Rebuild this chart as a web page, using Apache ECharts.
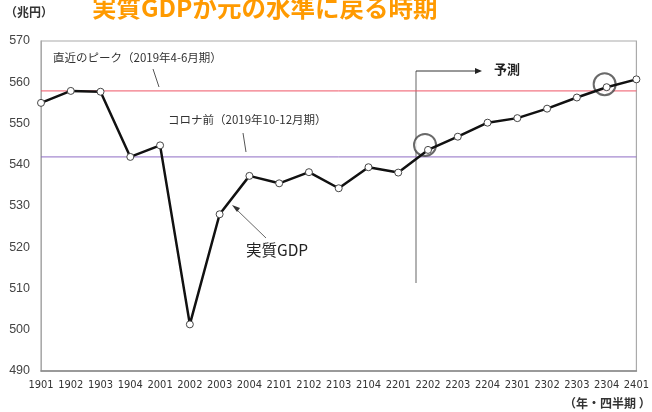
<!DOCTYPE html>
<html><head><meta charset="utf-8">
<script src="https://cdn.jsdelivr.net/npm/echarts@6/dist/echarts.min.js"></script>
<style>html,body{margin:0;padding:0;background:#fff}#c{width:652px;height:412px}</style>
</head><body><div id="c"></div>
<script>
const categories = ['1901','1902','1903','1904','2001','2002','2003','2004','2101','2102','2103','2104','2201','2202','2203','2204','2301','2302','2303','2304','2401'];
const realGDP = [555.0,557.9,557.7,541.9,544.7,501.3,528.0,537.3,535.5,538.2,534.3,539.4,538.1,543.6,546.8,550.2,551.3,553.6,556.3,558.8,560.7];
const peakLevel = 557.9;
const preCovidLevel = 541.9;
const yTicks = [490,500,510,520,530,540,550,560,570];
const highlightIdx = [13,19];

const chart = echarts.init(document.getElementById('c'));
const F = '"Noto Sans CJK JP", "Noto Sans", sans-serif';
const gray = '#555';
const last = categories.length - 1;
chart.setOption({
  animation:false,
  textStyle:{fontFamily:F},
  title:{text:'実質GDPが元の水準に戻る時期',left:87,top:-10,
    textStyle:{fontSize:24.5,fontWeight:'bold',color:'#FF9A00',fontFamily:F}},
  grid:{left:41,right:11,top:41,bottom:41,show:true,borderColor:'#aaa',borderWidth:1.2},
  xAxis:{type:'category',data:categories,boundaryGap:false,
    axisLine:{show:true,lineStyle:{color:'#888',width:1.5}},axisTick:{show:false},
    axisLabel:{color:'#333',fontSize:11,margin:9,interval:0,fontFamily:'"Liberation Sans Narrow", "DejaVu Sans Condensed", sans-serif'},
    splitLine:{show:false}},
  yAxis:{type:'value',min:490,max:570,interval:10,
    axisLine:{show:true,lineStyle:{color:'#aaa'}},axisTick:{show:false},
    axisLabel:{color:'#444',fontSize:12.5,margin:11,fontFamily:'"Liberation Sans", Arial, sans-serif'},
    splitLine:{show:false}},
  series:[
    {type:'line',data:[[0,peakLevel],[last,peakLevel]],symbol:'none',silent:true,
     lineStyle:{color:'#EE5566',width:1},z:2},
    {type:'line',data:[[0,preCovidLevel],[last,preCovidLevel]],symbol:'none',silent:true,
     lineStyle:{color:'#8E6CC4',width:1},z:2},
    {type:'line',data:realGDP,symbol:'circle',symbolSize:7,
     lineStyle:{color:'#111',width:2.5},
     itemStyle:{color:'#fff',borderColor:'#444',borderWidth:1},
     z:5},
    {type:'scatter',data:[[highlightIdx[0],realGDP[highlightIdx[0]]]],symbol:'emptyCircle',symbolSize:22,symbolOffset:[-3,-5],
     itemStyle:{color:'#444',borderColor:'#444',borderWidth:1},z:4,silent:true},
    {type:'scatter',data:[[highlightIdx[1],realGDP[highlightIdx[1]]]],symbol:'emptyCircle',symbolSize:22,symbolOffset:[-2,-3],
     itemStyle:{color:'#444',borderColor:'#444',borderWidth:1},z:4,silent:true}
  ],
  graphic:[
    {type:'text',left:5,top:6,style:{text:'（兆円）',font:'bold 12px '+F,fill:'#333'}},
    {type:'text',left:564,top:397,style:{text:'（年・四半期 ）',font:'bold 12px '+F,fill:'#333'}},
    {type:'text',left:53,top:52,style:{text:'直近のピーク（2019年4-6月期）',font:'11.5px '+F,fill:'#333'}},
    {type:'line',shape:{x1:153,y1:69,x2:159,y2:87},style:{stroke:gray,lineWidth:1}},
    {type:'text',left:168,top:114,style:{text:'コロナ前（2019年10-12月期）',font:'11.5px '+F,fill:'#333'}},
    {type:'line',shape:{x1:243,y1:133,x2:246,y2:152},style:{stroke:gray,lineWidth:1}},
    {type:'text',left:246,top:242,style:{text:'実質GDP',font:'15.5px '+F,fill:'#222'}},
    {type:'line',shape:{x1:266,y1:238,x2:236,y2:209},style:{stroke:'#666',lineWidth:1}},
    {type:'polygon',shape:{points:[[232,205],[240,208],[237,212]]},style:{fill:'#333'}},
    {type:'line',shape:{x1:416,y1:71,x2:416,y2:283},style:{stroke:'#999',lineWidth:1.5}},
    {type:'line',shape:{x1:416,y1:71,x2:476,y2:71},style:{stroke:'#333',lineWidth:1}},
    {type:'polygon',shape:{points:[[482,71],[475,68],[475,74]]},style:{fill:'#222'}},
    {type:'text',left:494,top:63,style:{text:'予測',font:'bold 13px '+F,fill:'#222'}}
  ]
});
</script></body></html>
